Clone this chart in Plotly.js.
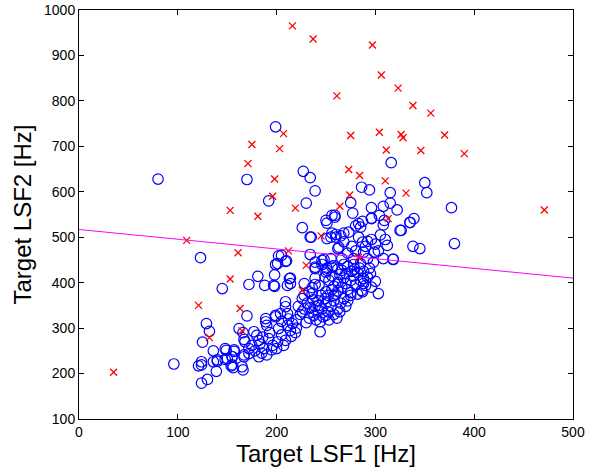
<!DOCTYPE html>
<html>
<head>
<meta charset="utf-8">
<script src="https://cdn.plot.ly/plotly-3.0.1.min.js"></script>
<style>
html,body{margin:0;padding:0;background:#fff;}
#chart{width:595px;height:467px;}
</style>
</head>
<body>
<div id="chart"></div>
<script>
// Class A (blue circles): [LSF1, LSF2]
const blueX = [80,170,199,227,234,239,192,230,
316,350,352,286,294,315,275,315,296,308,322,377,277,259,296,304,339,335,326,338,345,380,318,
123,145,172,170,129,132,125,136,149,157,162,166,167,140,148,155,154,156,166,167,96,121,124,139,130,124,
251,256,226,235,256,205,201,210,234,239,239,246,181,198,213,188,198,228,250,253,236,
250,259,280,283,287,285,296,308,309,335,325,255,260,265,273,268,287,292,263,288,299,255,266,278,292,308,318,
246,251,257,266,272,279,285,288,288,290,303,286,287,275,
214,239,189,199,209,244,244,250,
202,209,199,234,251,260,262,248,239,256,251,214,239,197,211,243,249,236,250,258,
168,189,190,199,204,202,209,211,211,182,192,201,209,187,195,182,190,167,172,148,157,155,150,140,136,155,165,124,177,180,
220,224,228,231,226,222,233,236,239,242,245,230,240,247,252,255,258,250,246,237,242,228,233,253,258,262,265,268,260,256,234,243,249,238,226,252,261,264,270,272,
262,266,270,275,278,282,268,262,258,272,280,285,292,295,276,270,264,256,284,278,294,298,262,268,288,296,300,282,275,
272,280,276,268,283,290,296,300,305,310,303,312,
175,178,183,186,193,196,205,214,216,220,212,205,200,185,172,207,215,219];
const blueY = [628,627,743,645,631,602,580,575,
664,620,598,610,604,598,576,575,565,568,560,565,553,548,542,548,541,532,515,480,475,486,451,
455,387,396,327,310,293,269,250,251,249,299,290,275,227,231,237,217,213,208,237,221,217,226,205,187,179,
531,548,521,500,509,460,442,448,462,445,431,449,414,417,409,394,392,398,423,405,389,
537,544,525,530,535,522,541,527,537,533,515,500,506,503,511,509,489,491,478,467,467,453,453,453,453,453,452,
440,432,437,427,436,430,442,425,409,394,376,383,380,372,
398,396,314,328,347,314,292,328,
459,447,440,500,497,500,475,451,434,434,427,410,410,394,394,394,412,376,380,372,
270,321,306,325,332,299,358,332,306,273,277,270,273,255,252,237,241,241,244,255,252,237,233,230,226,219,215,219,292,284,
318,330,342,355,365,348,322,335,348,360,372,312,318,325,336,348,360,355,342,362,338,372,380,318,330,342,355,365,375,385,345,350,365,328,336,372,322,336,348,360,
382,390,398,405,415,422,410,400,392,385,395,405,412,420,425,420,418,415,432,440,432,445,430,440,398,390,403,375,378,
465,470,480,490,500,480,495,485,505,495,470,482,
262,250,265,280,290,262,285,295,310,300,320,315,255,245,255,262,282,290];
// Class B (red crosses): [LSF1, LSF2]
const redX = [216,237,297,306,323,261,338,356,207,275,304,326,328,370,175,203,311,346,390,171,273,284,198,310,196,274,331,264,219,153,471,181,313,245,109,212,161,283,230,153,226,121,163,165,132,35];
const redY = [965,936,923,857,828,811,790,773,728,724,731,726,719,725,704,695,692,691,684,662,649,636,628,624,590,593,597,568,564,559,560,546,541,503,493,470,466,456,438,408,383,350,343,294,279,203];
// Decision boundary (magenta line)
const lineX = [0, 500];
const lineY = [517, 410];
const xTicks = [0,100,200,300,400,500];
const yTicks = [100,200,300,400,500,600,700,800,900,1000];

const fontFam = '"Liberation Sans", Arial, Helvetica, sans-serif';
const traces = [
  {x: blueX, y: blueY, type: 'scatter', mode: 'markers',
   marker: {symbol: 'circle-open', size: 10.5, color: 'rgb(0,0,255)', line: {width: 1.2, color: 'rgb(0,0,255)'}},
   hoverinfo: 'skip'},
  {x: redX, y: redY, type: 'scatter', mode: 'markers',
   marker: {symbol: 'x-thin-open', size: 7, color: 'rgb(255,0,0)', line: {width: 1.3, color: 'rgb(255,0,0)'}},
   hoverinfo: 'skip'},
  {x: lineX, y: lineY, type: 'scatter', mode: 'lines',
   line: {color: 'rgb(255,0,255)', width: 1}, hoverinfo: 'skip'}
];
const axisCommon = {
  showline: true, linecolor: '#000', linewidth: 1, mirror: 'ticks',
  ticks: 'inside', ticklen: 5, tickwidth: 1, tickcolor: '#000',
  showgrid: false, zeroline: false,
  tickfont: {family: fontFam, size: 14, color: '#000'}
};
const layout = {
  width: 595, height: 467,
  margin: {l: 79, r: 22, t: 10, b: 48},
  paper_bgcolor: '#fff', plot_bgcolor: '#fff',
  showlegend: false,
  xaxis: Object.assign({}, axisCommon, {
    range: [0, 500], tickvals: xTicks, ticktext: xTicks.map(String),
    title: {text: 'Target LSF1 [Hz]', font: {family: fontFam, size: 24, color: '#000'}, standoff: 3}
  }),
  yaxis: Object.assign({}, axisCommon, {
    range: [100, 1000], tickvals: yTicks, ticktext: yTicks.map(String),
    title: {text: 'Target LSF2 [Hz]', font: {family: fontFam, size: 24, color: '#000'}, standoff: 5}
  })
};
Plotly.newPlot('chart', traces, layout, {displayModeBar: false, staticPlot: true});
</script>
</body>
</html>
